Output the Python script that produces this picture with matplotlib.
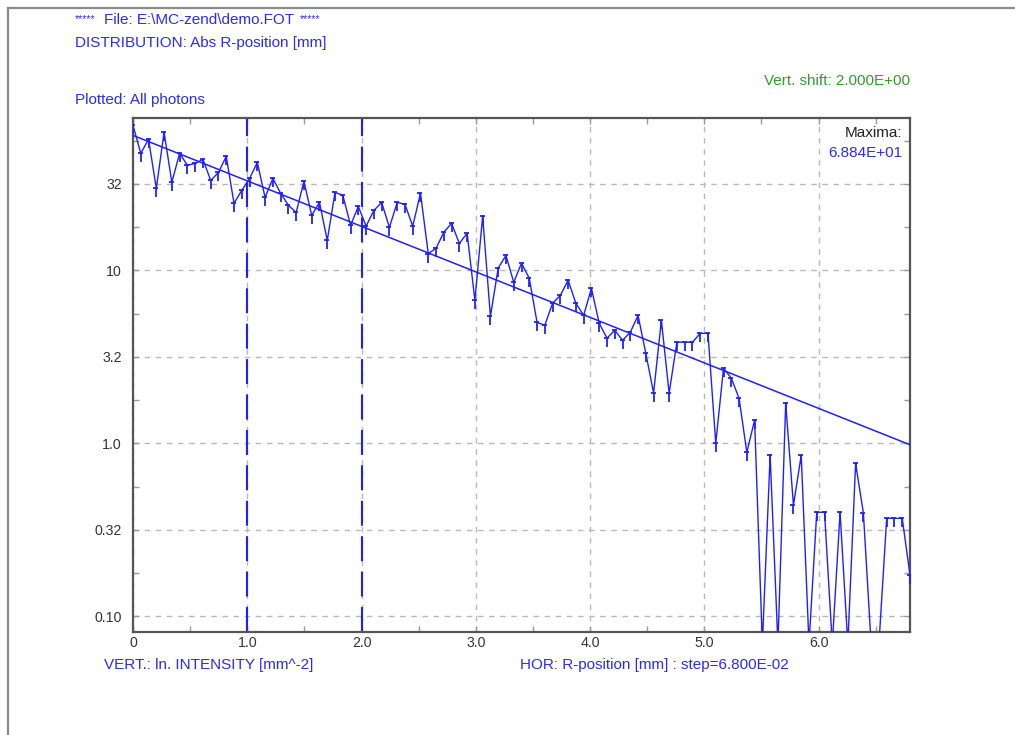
import numpy as np
import matplotlib
matplotlib.use("Agg")
import matplotlib.pyplot as plt
from matplotlib.path import Path
from matplotlib.lines import Line2D
from matplotlib.ticker import FixedLocator, NullFormatter

# ---- data -------------------------------------------------------------
step = 0.068                      # bin width [mm]
intensity = [
    68.84, 47.5, 57.2, 29.8, 62.8, 32.3, 47.5, 40.5, 41.5, 43.8,
    33.1, 36.8, 45.6, 24.4, 29.0, 34.0, 42.1, 26.4, 34.0, 27.9,
    23.8, 21.6, 32.7, 20.8, 24.7, 14.9, 28.2, 27.2, 18.2, 23.4,
    18.0, 22.2, 24.7, 17.7, 24.7, 24.1, 18.0, 27.9, 12.5, 13.4,
    16.6, 18.7, 14.3, 16.4, 6.71, 20.5, 5.42, 10.3, 12.2, 8.52,
    11.0, 8.99, 5.00, 4.81, 6.45, 7.17, 8.75, 6.45, 5.49, 7.87,
    4.94, 4.05, 4.50, 3.94, 4.38, 5.49, 3.31, 1.95, 5.14, 1.95,
    3.84, 3.84, 3.84, 4.32, 4.32, 1.00, 2.71, 2.38, 1.82, 0.887,
    1.36, 0.0, 0.853, 0.0, 1.70, 0.438, 0.853, 0.0, 0.399, 0.399,
    0.0, 0.399, 0.0, 0.766, 0.395, 0.0, 0.0, 0.368, 0.368, 0.368,
    0.173,
]
r_pos = step * np.arange(len(intensity))

fit_r = [0.0, 6.8]
fit_intensity = [60.3, 0.98]
cursor_r = [1.0, 2.0]

ytick_vals = [0.1, 0.316, 1.0, 3.16, 10.0, 31.6]
ytick_labels = ["0.10", "0.32", "1.0", "3.2", "10", "32"]
yminor_vals = [0.178, 0.562, 1.78, 5.62, 17.8, 56.2]
xtick_vals = [0, 1, 2, 3, 4, 5, 6]
xtick_labels = ["0", "1.0", "2.0", "3.0", "4.0", "5.0", "6.0"]
xminor_vals = [0.5, 1.5, 2.5, 3.5, 4.5, 5.5, 6.5]

y_lo, y_hi = 0.081, 76.0
x_lo, x_hi = 0.0, 6.8

# ---- style ------------------------------------------------------------
plt.rcParams["font.family"] = ["Liberation Sans", "DejaVu Sans"]
BLUE = "#2a2aff"
LINE_BLUE = "#2020ff"
GREEN = "#2f9e2f"
AX_GRAY = "#555555"
GRID = "#b8b8b8"
FS = 11.0
TICK_FS = 10.2

W, H = 1015, 735
fig = plt.figure(figsize=(W / 100, H / 100), dpi=100)
fig.patch.set_facecolor("white")


def fx(px):
    return px / W


def fy(py):
    return 1 - py / H


# window frame
fig.add_artist(Line2D([fx(8), fx(8)], [fy(8), 0], transform=fig.transFigure,
                      color="#8a8a8a", lw=1.6))
fig.add_artist(Line2D([fx(8), 1], [fy(8), fy(8)], transform=fig.transFigure,
                      color="#8a8a8a", lw=1.6))

ax = fig.add_axes([fx(133), fy(632), fx(910) - fx(133), fy(118) - fy(632)])
ax.set_yscale("log")
ax.set_xlim(x_lo, x_hi)
ax.set_ylim(y_lo, y_hi)

for s in ax.spines.values():
    s.set_color(AX_GRAY)
    s.set_linewidth(1.6)

ax.yaxis.set_major_locator(FixedLocator(ytick_vals))
ax.set_yticklabels(ytick_labels)
ax.yaxis.set_minor_locator(FixedLocator(yminor_vals))
ax.yaxis.set_minor_formatter(NullFormatter())
ax.xaxis.set_major_locator(FixedLocator(xtick_vals))
ax.set_xticklabels(xtick_labels)
ax.xaxis.set_minor_locator(FixedLocator(xminor_vals))
ax.tick_params(which="both", direction="in", top=True, right=True,
               color="#999999", width=1.0, labelsize=TICK_FS,
               labelcolor="#333333")
ax.tick_params(which="major", length=4)
ax.tick_params(which="minor", length=4)
ax.tick_params(axis="y", which="major", pad=8)
ax.tick_params(axis="x", which="major", pad=3)

ax.grid(True, which="major", color=GRID, lw=1.0, dashes=(4, 4))
ax.set_axisbelow(True)

# cursors
for c in cursor_r:
    ax.axvline(c, color=LINE_BLUE, lw=1.5, dashes=(12, 5), zorder=2)

# fitted exponential (straight on the log axis)
ax.plot(fit_r, fit_intensity, color=LINE_BLUE, lw=1.1, zorder=3)

# empty bins are drawn below the lower edge of the plot
vals = np.asarray(intensity, dtype=float)
floor = y_lo * 0.85
shown = np.where(vals > 0, vals, floor)
ax.plot(r_pos, shown, color=LINE_BLUE, lw=1.0, zorder=4, clip_on=True)

# small hanging bar marker at each filled bin
bar_marker = Path([(-0.35, 0.0), (0.25, 0.0), (0.0, 0.0), (0.0, -1.0)],
                  [Path.MOVETO, Path.LINETO, Path.MOVETO, Path.LINETO])
mask = vals > 0
ax.plot(r_pos[mask], vals[mask], ls="none", marker=bar_marker,
        markersize=13, markeredgewidth=1.3, markeredgecolor=LINE_BLUE,
        markerfacecolor="none", zorder=5, clip_on=True)

# ---- annotations ------------------------------------------------------
def ftext(px, py, s, color=BLUE, ha="left", size=FS):
    fig.text(fx(px), fy(py), s, color=color, ha=ha, va="center", fontsize=size)


ftext(75, 19, "*****", size=7.5)
ftext(104, 20, "File: E:\\MC-zend\\demo.FOT")
ftext(300, 19, "*****", size=7.5)
ftext(75, 43, "DISTRIBUTION: Abs R-position [mm]")
ftext(75, 100, "Plotted: All photons")
ftext(910, 81, "Vert. shift: 2.000E+00", color=GREEN, ha="right")
ftext(902, 133, "Maxima:", color="#222222", ha="right")
ftext(902, 153, "6.884E+01", ha="right")
ftext(104, 665, "VERT.: ln. INTENSITY [mm^-2]")
ftext(520, 665, "HOR: R-position [mm] : step=6.800E-02")

fig.savefig("out.png", dpi=100, facecolor="white")
